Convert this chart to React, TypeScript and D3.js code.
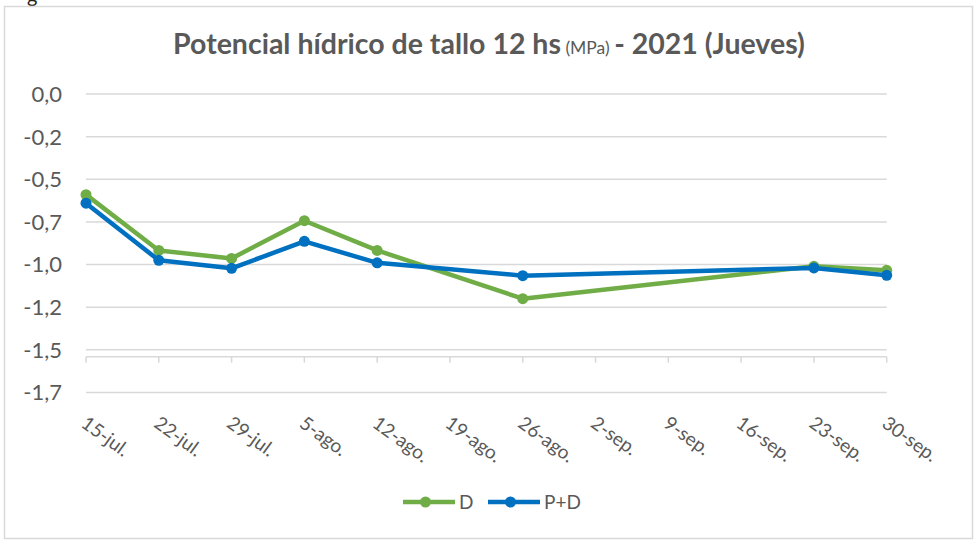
import React from "react";
import * as d3 from "d3";

const categories = ["15-jul.", "22-jul.", "29-jul.", "5-ago.", "12-ago.", "19-ago.", "26-ago.", "2-sep.", "9-sep.", "16-sep.", "23-sep.", "30-sep."];
// null = no measurement that week
const seriesD: (number | null)[] = [-0.59, -0.917, -0.964, -0.743, -0.917, null, -1.2, null, null, null, -1.01, -1.034];
const seriesPD: (number | null)[] = [-0.64, -0.975, -1.022, -0.864, -0.99, null, -1.065, null, null, null, -1.02, -1.063];
const yTicks = [0, -0.25, -0.5, -0.75, -1.0, -1.25, -1.5, -1.75];
const yTickLabels = ["0,0", "-0,2", "-0,5", "-0,7", "-1,0", "-1,2", "-1,5", "-1,7"];
const seriesNames = ["D", "P+D"];
const seriesColors = ["#70AD47", "#0070C0"];

const W = 980;
const H = 540;
const FONT = "Lato, 'Open Sans', sans-serif";
const TXT = "#595959";
const GRID = "#D9D9D9";

export default function App() {
  const x = d3.scaleLinear().domain([0, categories.length - 1]).range([86, 886.7]);
  const y = d3.scaleLinear().domain([0, -1.75]).range([94, 392.5]);
  const axisY = y(-1.54);

  const line = d3
    .line<[number, number | null]>()
    .defined((d) => d[1] !== null)
    .x((d) => x(d[0]))
    .y((d) => y(d[1] as number));

  const allSeries = [seriesD, seriesPD];
  const pts = (s: (number | null)[]) =>
    s.map((v, i) => [i, v] as [number, number | null]).filter((d) => d[1] !== null);

  return (
    <svg width={W} height={H} style={{ position: "absolute", left: 0, top: 0, background: "#fff" }} fontFamily={FONT}>
      <rect x={0} y={0} width={W} height={H} fill="#fff" />
      <text x={27} y={3} fontSize={20} fill="#222">g</text>
      <rect x={4.5} y={6.5} width={968} height={532} fill="none" stroke={GRID} strokeWidth={1.5} />

      <text x={489} y={54} textAnchor="middle" fontSize={28.5} fill={TXT}>
        <tspan fontWeight="bold">Potencial hídrico de tallo 12 hs</tspan>
        <tspan fontSize={17.5}> (MPa) </tspan>
        <tspan fontWeight="bold">- 2021 (Jueves)</tspan>
      </text>

      {yTicks.map((t, i) => (
        <g key={t}>
          <line x1={86} x2={886.7} y1={y(t)} y2={y(t)} stroke={GRID} strokeWidth={1.5} />
          <text x={62} y={y(t)} dy="0.36em" textAnchor="end" fontSize={22} fill={TXT}>
            {yTickLabels[i]}
          </text>
        </g>
      ))}

      <line x1={86} x2={886.7} y1={axisY} y2={axisY} stroke={GRID} strokeWidth={1.5} />
      {categories.map((c, i) => (
        <g key={c}>
          <line x1={x(i)} x2={x(i)} y1={axisY} y2={axisY + 6} stroke={GRID} strokeWidth={1.5} />
          <text
            transform={`translate(${x(i) - 6},${426}) rotate(36)`}
            fontSize={19}
            fill={TXT}
          >
            {c}
          </text>
        </g>
      ))}

      {allSeries.map((s, k) => (
        <g key={k}>
          <path d={line(s.map((v, i) => [i, v] as [number, number | null]).filter((d) => d[1] !== null)) || ""} fill="none" stroke={seriesColors[k]} strokeWidth={4.5} strokeLinejoin="round" />
          {pts(s).map((d) => (
            <circle key={d[0]} cx={x(d[0])} cy={y(d[1] as number)} r={5.5} fill={seriesColors[k]} />
          ))}
        </g>
      ))}

      {seriesNames.map((n, k) => {
        const x0 = k === 0 ? 403 : 488;
        return (
          <g key={n}>
            <line x1={x0} x2={x0 + 52} y1={502} y2={502} stroke={seriesColors[k]} strokeWidth={4.5} />
            <circle cx={x0 + 22.5} cy={502} r={5.5} fill={seriesColors[k]} />
            <text x={x0 + 56} y={502} dy="0.36em" fontSize={19} fill={TXT}>{n}</text>
          </g>
        );
      })}
    </svg>
  );
}
